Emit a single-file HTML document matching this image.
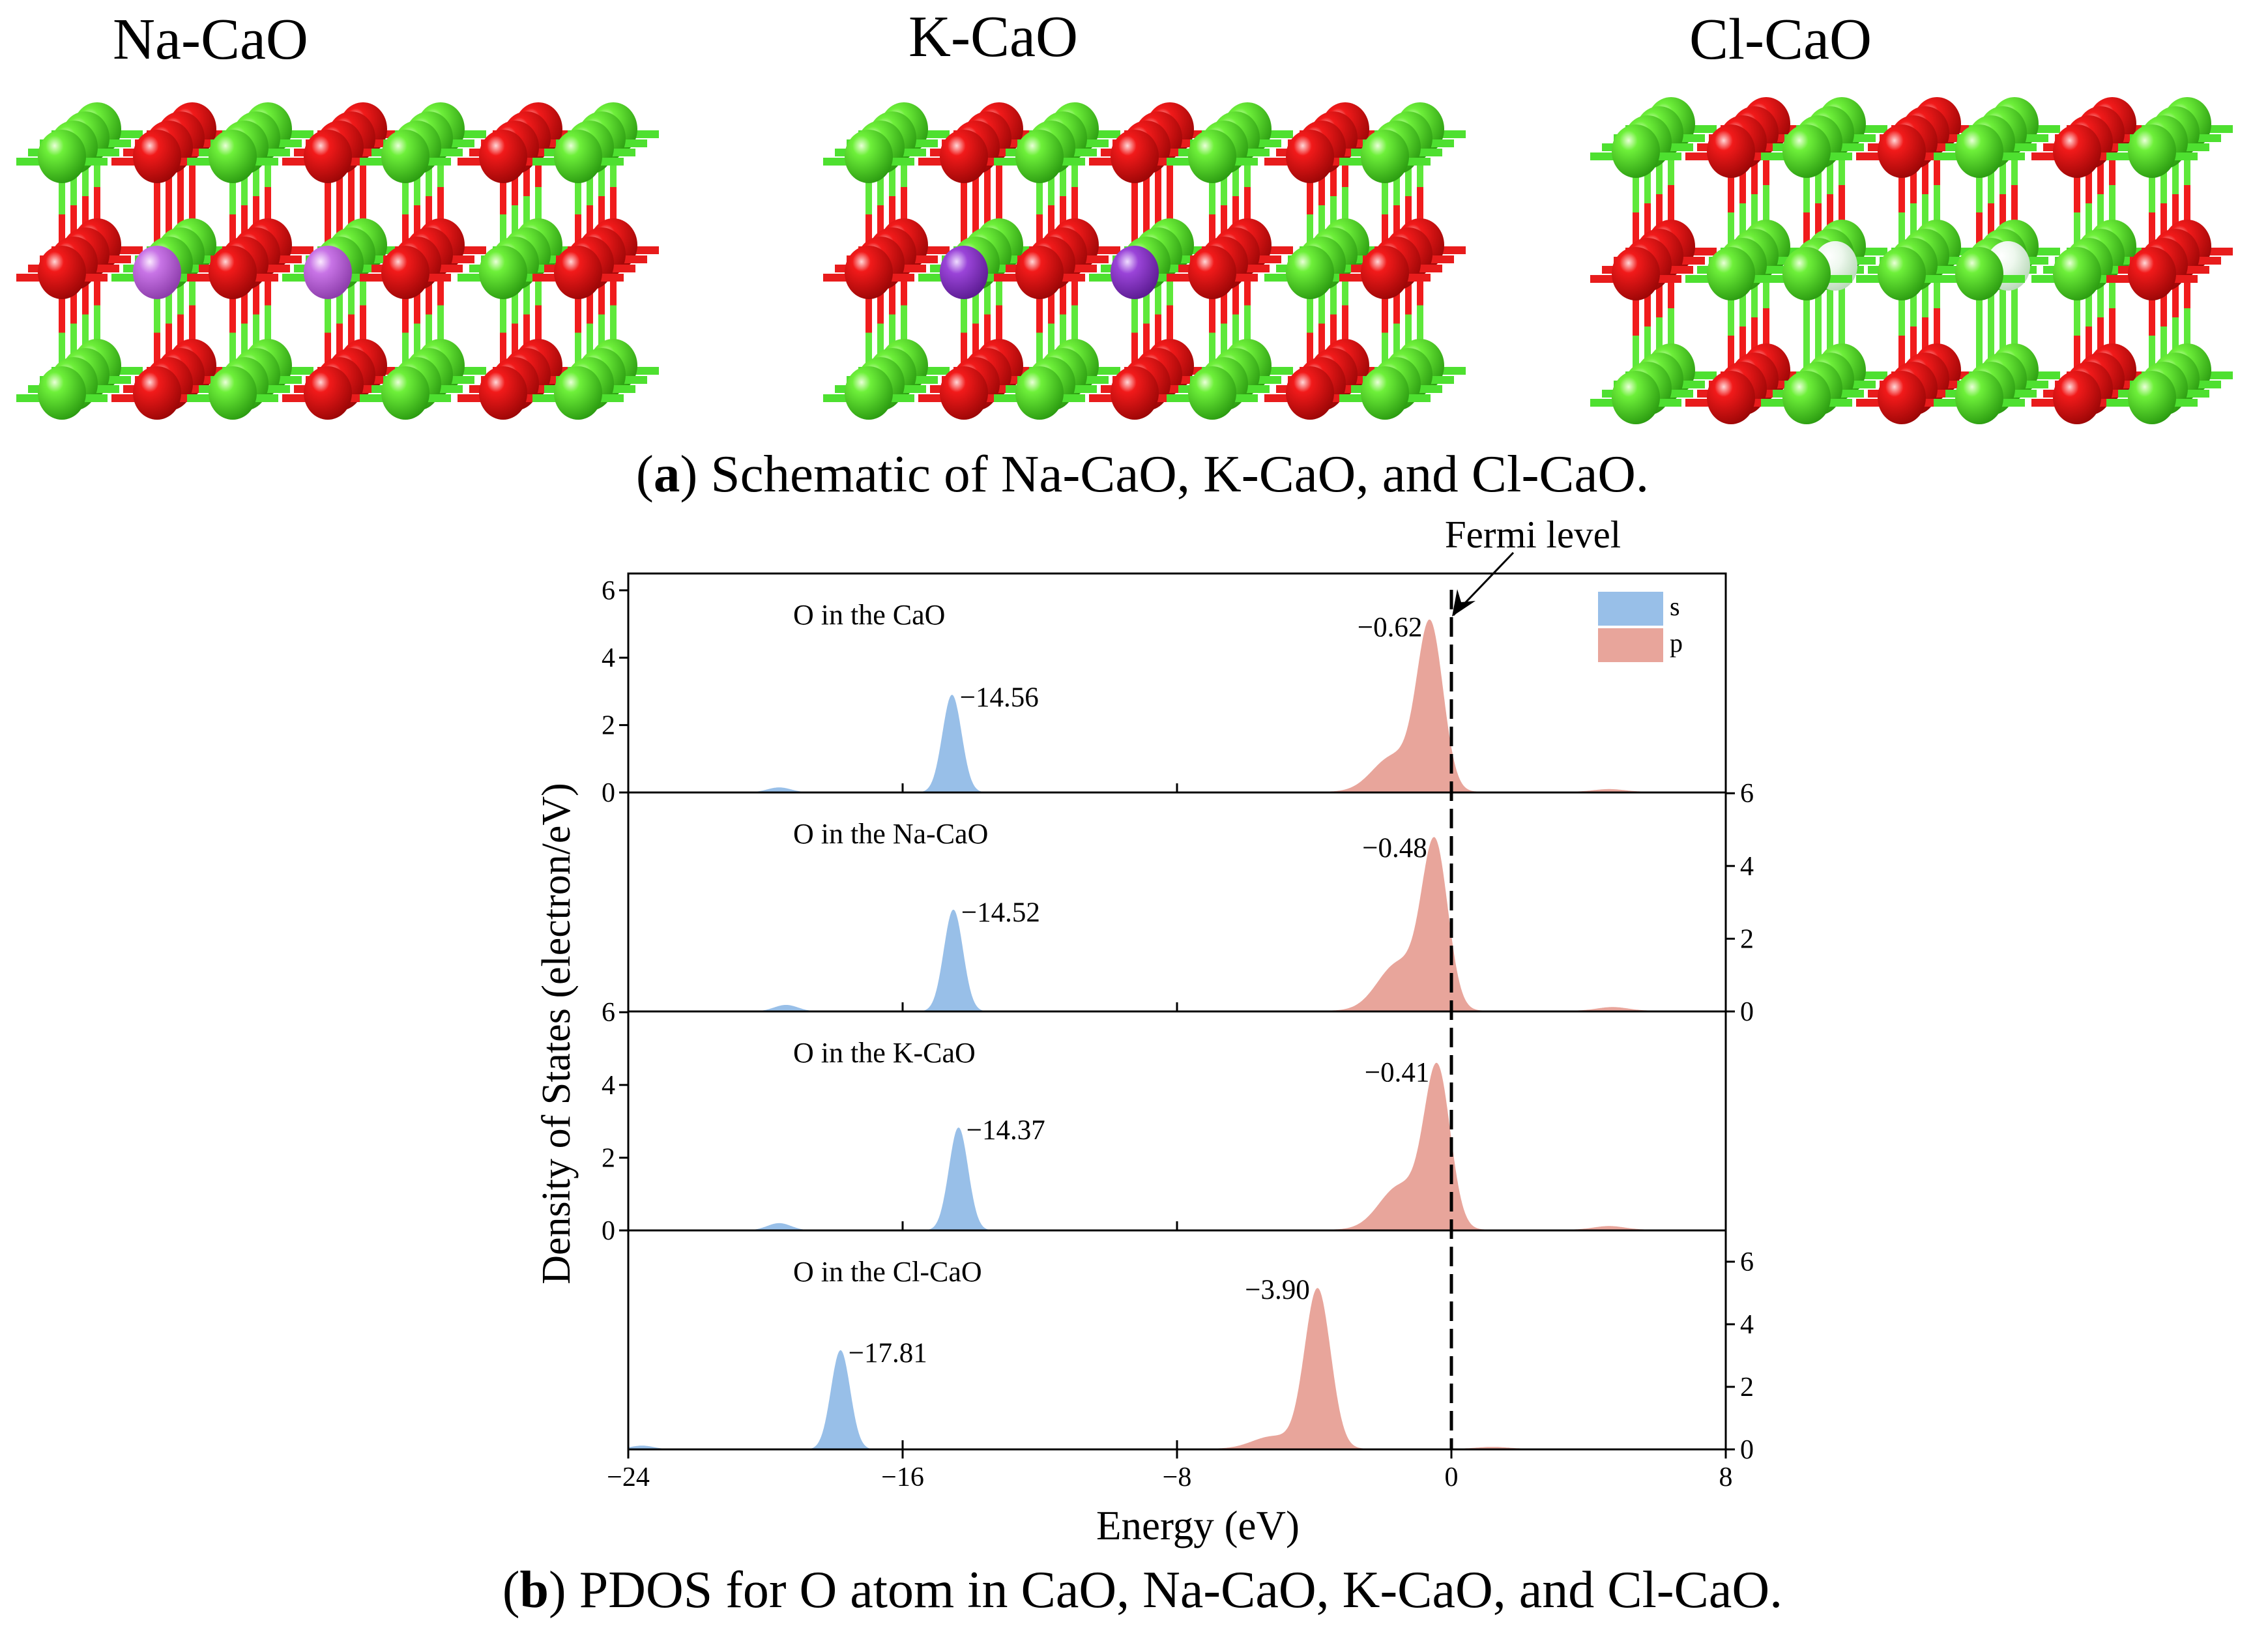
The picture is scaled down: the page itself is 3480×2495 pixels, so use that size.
<!DOCTYPE html>
<html><head><meta charset="utf-8"><style>
html,body{margin:0;padding:0;background:#fff}
body{width:3480px;height:2495px;position:relative;overflow:hidden;font-family:"Liberation Serif","Times New Roman","Nimbus Roman","DejaVu Serif",serif}
svg{position:absolute;left:0;top:0}
svg text{font-family:"Liberation Serif","Times New Roman","Nimbus Roman","DejaVu Serif",serif}
</style></head><body>
<svg id="s" width="3480" height="2495" viewBox="0 0 3480 2495" xmlns="http://www.w3.org/2000/svg">
<defs>
<radialGradient id="gG" cx="0.35" cy="0.3" r="0.75"><stop offset="0" stop-color="#eaffd8"/><stop offset="0.25" stop-color="#6ef03a"/><stop offset="1" stop-color="#2a9a10"/></radialGradient>
<radialGradient id="gR" cx="0.35" cy="0.3" r="0.75"><stop offset="0" stop-color="#ffd8d8"/><stop offset="0.25" stop-color="#f21a1a"/><stop offset="1" stop-color="#9a0606"/></radialGradient>
<radialGradient id="gNa" cx="0.35" cy="0.3" r="0.75"><stop offset="0" stop-color="#fbeaff"/><stop offset="0.3" stop-color="#c874e6"/><stop offset="1" stop-color="#8a3aa8"/></radialGradient>
<radialGradient id="gK" cx="0.35" cy="0.3" r="0.75"><stop offset="0" stop-color="#efdcff"/><stop offset="0.3" stop-color="#9a44d8"/><stop offset="1" stop-color="#5a1a90"/></radialGradient>
<radialGradient id="gCl" cx="0.35" cy="0.3" r="0.75"><stop offset="0" stop-color="#ffffff"/><stop offset="0.4" stop-color="#eef8ee"/><stop offset="1" stop-color="#b8d8b8"/></radialGradient>
</defs>
<g id="mol"></g>
<text x="323" y="90" font-size="90" text-anchor="middle">Na-CaO</text>
<text x="1524" y="86" font-size="90" text-anchor="middle">K-CaO</text>
<text x="2732" y="90" font-size="90" text-anchor="middle">Cl-CaO</text>
<text x="1753" y="754" font-size="81" text-anchor="middle">(<tspan font-weight="bold">a</tspan>) Schematic of Na-CaO, K-CaO, and Cl-CaO.</text>
<g id="chart"></g>
<text x="1838" y="2362" font-size="63" text-anchor="middle">Energy (eV)</text>
<text transform="translate(874,1586) rotate(-90)" font-size="62" text-anchor="middle">Density of States (electron/eV)</text>
<text x="1753" y="2466" font-size="80" text-anchor="middle">(<tspan font-weight="bold">b</tspan>) PDOS for O atom in CaO, Na-CaO, K-CaO, and Cl-CaO.</text>
</svg>
<script>
const NS='http://www.w3.org/2000/svg';
function mk(parent,tag,attrs){const e=document.createElementNS(NS,tag);for(const k in attrs)e.setAttribute(k,attrs[k]);parent.appendChild(e);return e;}

// ---------- Chart data ----------
const panelLabels=['O in the CaO','O in the Na-CaO','O in the K-CaO','O in the Cl-CaO'];
const xTicks=[-24,-16,-8,0,8];
const yTicks=[0,2,4,6];
const sPeakE=[-14.56,-14.52,-14.37,-17.81];
const sPeakH=[2.9,2.8,2.83,3.17];
const pPeakE=[-0.62,-0.48,-0.41,-3.90];
const pPeakH=[4.9,4.5,4.35,5.1];
const pShoulderE=[-1.7,-1.55,-1.5,-5.2];
const pShoulderH=[1.05,1.3,1.2,0.4];
const sMinorE=[-19.6,-19.4,-19.6,-23.6];
const sMinorH=[0.15,0.18,0.2,0.12];
const pMinorE=[4.6,4.7,4.6,1.2];
const pMinorH=[0.08,0.1,0.1,0.06];
const peakLabels=[['\u221214.56','\u22120.62'],['\u221214.52','\u22120.48'],['\u221214.37','\u22120.41'],['\u221217.81','\u22123.90']];

const X0=964,X1=2648,xmin=-24,xmax=8;
const ptop=[880,1216,1552,1888],ph=336;
const ppu=[51.7,55.8,55.8,48];
const xs=e=>X0+(e-xmin)/(xmax-xmin)*(X1-X0);
const ys=(i,v)=>ptop[i]+ph-v*ppu[i];
const g=(e,c,h,w)=>h*Math.exp(-0.5*((e-c)/w)**2);
function sDos(i,e){return g(e,sPeakE[i],sPeakH[i],0.28)+g(e,sMinorE[i],sMinorH[i],0.35);}
function pDos(i,e){return g(e,pPeakE[i],pPeakH[i],0.38)+g(e,pShoulderE[i],pShoulderH[i],0.6)+g(e,pMinorE[i],pMinorH[i],0.45)+0.02;}

const ch=document.getElementById('chart');
for(let i=0;i<4;i++){
  const grp=mk(ch,'g',{});
  
  
  const base=ptop[i]+ph;
  for(const [fn,col,nm] of [[pDos,'#e8a59b','p-fill'],[sDos,'#98bfe8','s-fill']]){
    let d='M'+X0+','+base;
    for(let e=xmin;e<=xmax+1e-9;e+=0.02){d+=' L'+xs(e).toFixed(1)+','+ys(i,fn(i,e)).toFixed(1);}
    d+=' L'+X1+','+base+' Z';
    const p=mk(grp,'path',{d:d,fill:col,stroke:'none'});
    
    
  }
  const t=mk(grp,'text',{x:1217,y:ptop[i]+78,'font-size':44});t.textContent=panelLabels[i];
  
  
  const l1=mk(grp,'text',{x:xs(sPeakE[i])+12,y:ys(i,sPeakH[i])+18,'font-size':43});l1.textContent=peakLabels[i][0];
  
  
  const l2=mk(grp,'text',{x:xs(pPeakE[i])-12,y:ys(i,pPeakH[i])+14,'font-size':43,'text-anchor':'end'});l2.textContent=peakLabels[i][1];
  
  
  for(const tk of xTicks){ if(tk===xmin||tk===xmax) continue; mk(grp,'line',{x1:xs(tk),x2:xs(tk),y1:base,y2:base-14,stroke:'#000','stroke-width':3}); }
  const right=(i===1||i===3);
  for(const v of yTicks){
    const y=ys(i,v);
    if(right){
      mk(grp,'line',{x1:X1,x2:X1+14,y1:y,y2:y,stroke:'#000','stroke-width':3});
      const tt=mk(grp,'text',{x:X1+22,y:y+14,'font-size':42});tt.textContent=v;
      
      
    } else {
      mk(grp,'line',{x1:X0-14,x2:X0,y1:y,y2:y,stroke:'#000','stroke-width':3});
      const tt=mk(grp,'text',{x:X0-20,y:y+14,'font-size':42,'text-anchor':'end'});tt.textContent=v;
      
      
    }
  }
  mk(grp,'line',{x1:X0,x2:X1,y1:base,y2:base,stroke:'#000','stroke-width':3});
}
mk(ch,'rect',{x:X0,y:ptop[0],width:X1-X0,height:ph*4,fill:'none',stroke:'#000','stroke-width':3});
for(const tk of xTicks){
  mk(ch,'line',{x1:xs(tk),x2:xs(tk),y1:2224,y2:2238,stroke:'#000','stroke-width':3});
  const tt=mk(ch,'text',{x:xs(tk),y:2280,'font-size':42,'text-anchor':'middle'});tt.textContent=(tk<0?'\u2212'+(-tk):tk);
  
  
}
const fl=mk(ch,'line',{x1:xs(0),x2:xs(0),y1:905,y2:2224,stroke:'#000','stroke-width':5,'stroke-dasharray':'30,12'});


const ar=mk(ch,'path',{d:`M2322,848 L${xs(0)+3},944`,stroke:'#000','stroke-width':3,fill:'none'});


const ah=mk(ch,'path',{d:`M${xs(0)+1},946 l8,-42 l6,20 l22,-2 Z`,fill:'#000'});


const ft=mk(ch,'text',{x:2352,y:840,'font-size':59,'text-anchor':'middle'});ft.textContent='Fermi level';


const lg=mk(ch,'g',{});


mk(lg,'rect',{x:2452,y:908,width:100,height:52,fill:'#98bfe8'});
mk(lg,'rect',{x:2452,y:964,width:100,height:52,fill:'#e8a59b'});
const ls=mk(lg,'text',{x:2562,y:944,'font-size':40});ls.textContent='s';


const lp=mk(lg,'text',{x:2562,y:1000,'font-size':40});lp.textContent='p';



// ---------- Molecule schematics ----------
const mol=document.getElementById('mol');
const colOff=[0,146,262,408,527,677,792];
const DX=18,DY=-14;
const structs=[
 {x:95,rows:[240,418,603],pat:['GRGRGRG','RNRNRGR','GRGRGRG'],dop:'gNa',name:'na-cao-structure'},
 {x:1333,rows:[240,418,603],pat:['GRGRGRG','RNRNRGR','GRGRGRG'],dop:'gK',name:'k-cao-structure'},
 {x:2510,rows:[232,420,610],pat:['GRGRGRG','RGCGCGR','GRGRGRG'],dop:'gCl',name:'cl-cao-structure'}
];
const colr=c=>c==='R'?'#f01c1c':'#5ee83a';
for(const st of structs){
  const sg=mk(mol,'g',{});
  
  
  for(let k=3;k>=0;k--){
    for(let c=0;c<7;c++){
      const x=st.x+colOff[c]+k*DX, dy=k*DY;
      for(let r=0;r<2;r++){
        const a=st.pat[r][c],b=st.pat[r+1][c];
        const ya=st.rows[r]+dy,yb=st.rows[r+1]+dy,ym=(ya+yb)/2;
        mk(sg,'line',{x1:x,x2:x,y1:ya,y2:ym,stroke:colr(a==='N'||a==='C'?'G':a),'stroke-width':10});
        mk(sg,'line',{x1:x,x2:x,y1:ym,y2:yb,stroke:colr(b==='N'||b==='C'?'R':b),'stroke-width':10});
      }
    }
  }
  for(let k=3;k>=0;k--){
    for(let r=0;r<3;r++){
      for(let c=0;c<7;c++){
        const a=st.pat[r][c];
        const x=st.x+colOff[c]+k*DX, y=st.rows[r]+k*DY;
        mk(sg,'line',{x1:x-70,x2:x+70,y1:y+8,y2:y+8,stroke:a==='R'?'#e81c1c':'#4ee030','stroke-width':12});
        let fill=a==='R'?'url(#gR)':'url(#gG)';
        if(a==='N'){ fill=k>0?'url(#gG)':'url(#'+st.dop+')'; }
        if(a==='C'){ fill='url(#gG)'; }
        mk(sg,'ellipse',{cx:x,cy:y,rx:37,ry:41,fill:fill});
      }
      if(r===1&&st.dop==='gCl'&&k===1){
        for(const c of [2,4]){ mk(sg,'ellipse',{cx:st.x+colOff[c]+44,cy:st.rows[1]-12,rx:34,ry:38,fill:'url(#gCl)'}); }
      }
    }
  }
}
</script>
</body></html>
